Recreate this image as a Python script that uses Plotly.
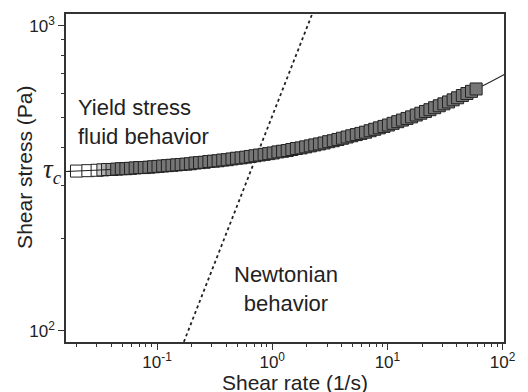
import plotly.graph_objects as go

# Measured flow curve: shear rate (1/s) and shear stress (Pa)
shear_rate = [
    0.0200, 0.0251, 0.0302, 0.0339, 0.0372, 0.0407, 0.0447, 0.0490, 0.0537, 0.0589,
    0.0646, 0.0708, 0.0776, 0.0851, 0.0933, 0.102, 0.112, 0.123, 0.135, 0.148,
    0.162, 0.178, 0.195, 0.214, 0.234, 0.257, 0.282, 0.309, 0.339, 0.372,
    0.407, 0.447, 0.490, 0.537, 0.589, 0.646, 0.708, 0.776, 0.851, 0.933,
    1.02, 1.12, 1.23, 1.35, 1.48, 1.62, 1.78, 1.95, 2.14, 2.34,
    2.57, 2.82, 3.09, 3.39, 3.72, 4.07, 4.47, 4.90, 5.37, 5.89,
    6.46, 7.08, 7.76, 8.51, 9.33, 10.2, 11.2, 12.3, 13.5, 14.8,
    16.2, 17.8, 19.5, 21.4, 23.4, 25.7, 28.2, 30.9, 33.9, 37.2,
    40.7, 44.7, 49.0, 53.7, 58.9,
]
shear_stress = [
    334, 335, 336, 337, 338, 338, 339, 340, 340, 341,
    342, 343, 343, 344, 345, 346, 347, 348, 349, 350,
    351, 352, 353, 355, 356, 357, 359, 360, 361, 363,
    364, 366, 368, 369, 371, 373, 375, 377, 379, 381,
    383, 386, 388, 390, 393, 396, 398, 401, 404, 407,
    410, 413, 417, 420, 424, 428, 432, 436, 440, 444,
    448, 453, 458, 463, 468, 473, 479, 485, 491, 497,
    503, 510, 517, 524, 531, 539, 547, 555, 563, 572,
    581, 591, 600, 610, 621,
]

# Herschel-Bulkley fit curve
fit_rate = [0.0158, 0.0398, 0.1, 0.251, 0.631, 1.585, 3.98, 10.0, 25.1, 63.1, 104.7]
fit_stress = [332.7, 338.1, 345.8, 356.8, 372.4, 394.8, 426.6, 471.9, 536.6, 628.8, 695.2]

# Newtonian reference line
newton_rate = [0.15, 2.4]
newton_stress = [81.0, 1178.0]

x_ticks = [0.1, 1, 10, 100]
x_labels = ["10<sup>-1</sup>", "10<sup>0</sup>", "10<sup>1</sup>", "10<sup>2</sup>"]
y_ticks = [100, 1000]
y_labels = ["10<sup>2</sup>", "10<sup>3</sup>"]

ink = "#222222"
sans = "Liberation Sans, Arial, sans-serif"

# first few sparse points are open, the dense run is shaded
lead_fills = ["#ffffff", "#ffffff", "#ffffff", "#d0d0d0", "#b0b0b0", "#949494"]
marker_fill = [lead_fills[i] if i < len(lead_fills) else "#767676"
               for i in range(len(shear_rate))]

fig = go.Figure()

fig.add_trace(go.Scatter(
    x=newton_rate, y=newton_stress, mode="lines",
    line=dict(color=ink, width=1.8, dash="dot"),
    showlegend=False, hoverinfo="skip",
))
fig.add_trace(go.Scatter(
    x=fit_rate, y=fit_stress, mode="lines",
    line=dict(color=ink, width=1.1, shape="spline"),
    showlegend=False, hoverinfo="skip",
))
fig.add_trace(go.Scatter(
    x=shear_rate, y=shear_stress, mode="markers",
    marker=dict(symbol="square", size=12, color=marker_fill,
                line=dict(width=1, color="#222222")),
    showlegend=False,
))
# fit line stays visible through the open leading squares
fig.add_trace(go.Scatter(
    x=fit_rate[:2], y=fit_stress[:2], mode="lines",
    line=dict(color=ink, width=1.1),
    showlegend=False, hoverinfo="skip",
))

minor_x = [m * 10 ** e for e in (-2, -1, 0, 1) for m in range(2, 10)]
minor_y = [m * 100 for m in range(2, 10)]

axis_common = dict(
    type="log", showgrid=False, zeroline=False,
    showline=True, linecolor="#333333", linewidth=1.6, mirror=True,
    ticks="outside", ticklen=6, tickwidth=1.3, tickcolor="#333333",
    tickfont=dict(family=sans, size=17, color=ink),
)

fig.update_xaxes(
    **axis_common, range=[-1.79, 2.012], ticklabelstandoff=-2,
    tickmode="array", tickvals=x_ticks, ticktext=x_labels,
    minor=dict(tickvals=minor_x, ticks="outside", ticklen=3, tickwidth=1.1,
               tickcolor="#333333", showgrid=False),
)
fig.update_yaxes(
    **axis_common, range=[1.963, 3.039],
    tickmode="array", tickvals=y_ticks, ticktext=y_labels,
    minor=dict(tickvals=minor_y, ticks="outside", ticklen=3, tickwidth=1.1,
               tickcolor="#333333", showgrid=False),
)

text_font = dict(family=sans, size=22, color=ink)
fig.add_annotation(
    text="Yield stress<br>fluid behavior", xref="paper", yref="paper",
    x=0.023, y=0.672, xanchor="left", yanchor="middle", align="left",
    showarrow=False, font=text_font,
)
fig.add_annotation(
    text="Newtonian<br>behavior", xref="paper", yref="paper",
    x=0.503, y=0.163, xanchor="center", yanchor="middle", align="center",
    showarrow=False, font=text_font,
)
fig.add_annotation(
    text="<i>τ</i><sub><i>c</i></sub>", xref="paper", yref="paper",
    x=-0.031, y=0.521, xanchor="center", yanchor="middle",
    showarrow=False, font=dict(family="Liberation Serif, Times New Roman, serif", size=27, color=ink),
)
fig.add_annotation(
    text="Shear rate (1/s)", xref="paper", yref="paper",
    x=0.5234, y=-0.122, xanchor="center", yanchor="middle", height=20,
    showarrow=False, font=dict(family=sans, size=21, color=ink),
)
fig.add_annotation(
    text="Shear stress (Pa)", xref="paper", yref="paper",
    x=-0.0935, y=0.531, xanchor="center", yanchor="middle", textangle=-90,
    showarrow=False, font=dict(family=sans, size=21, color=ink),
)

fig.update_layout(
    width=528, height=392,
    margin=dict(l=66, r=13, t=12, b=50),
    paper_bgcolor="white", plot_bgcolor="white",
)

fig.write_html("out.html")
